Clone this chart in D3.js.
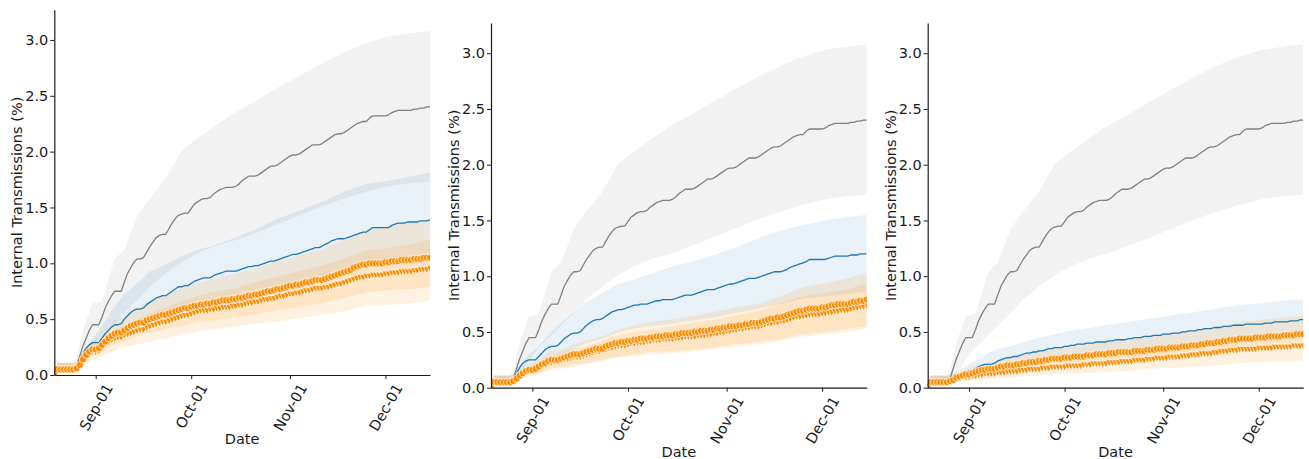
<!DOCTYPE html>
<html>
<head>
<meta charset="utf-8">
<script src="https://cdn.jsdelivr.net/npm/d3@7"></script>
<style>
body { margin: 0; background: #fff; }
svg { display: block; font-family: "DejaVu Sans", sans-serif; }
</style>
</head>
<body>
<svg id="chart" width="1309" height="459"></svg>
<script>
// date range and ticks
var startDay = "2020-08-19",
    endDay = "2020-12-15";
var xTickDays = ["2020-09-01", "2020-10-01", "2020-11-01", "2020-12-01"];
var yTicks = [0, 0.5, 1, 1.5, 2, 2.5, 3];
var yMax = 3.27;

// daily means, one value per day from startDay
var grayMean = [
  .02,.05,.05,.05,.05,.05,.05,.08,.17,.26,
  .33,.40,.45,.45,.45,.52,.60,.66,.71,.75,
  .75,.75,.83,.91,.96,1.01,1.04,1.04,1.05,1.10,
  1.15,1.19,1.23,1.25,1.26,1.26,1.31,1.36,1.40,1.43,
  1.44,1.45,1.45,1.49,1.53,1.55,1.57,1.58,1.58,1.59,
  1.62,1.64,1.66,1.67,1.68,1.68,1.68,1.69,1.71,1.74,
  1.76,1.78,1.78,1.78,1.79,1.81,1.83,1.85,1.87,1.87,
  1.88,1.90,1.92,1.94,1.96,1.97,1.97,1.98,2.00,2.02,
  2.04,2.06,2.06,2.06,2.07,2.09,2.11,2.13,2.15,2.16,
  2.16,2.17,2.19,2.21,2.23,2.25,2.26,2.27,2.27,2.30,
  2.32,2.32,2.32,2.32,2.32,2.33,2.35,2.36,2.37,2.37,
  2.37,2.37,2.37,2.38,2.38,2.39,2.39,2.40,2.40];

var p1Blue = [
  .02,.05,.05,.05,.05,.05,.05,.08,.13,.19,
  .24,.27,.29,.29,.29,.33,.37,.40,.43,.45,
  .45,.46,.50,.53,.56,.58,.59,.59,.60,.63,
  .65,.67,.69,.70,.71,.71,.73,.75,.77,.79,
  .79,.80,.80,.82,.84,.85,.86,.87,.87,.87,
  .89,.90,.91,.92,.93,.93,.93,.93,.94,.95,
  .96,.97,.97,.98,.98,.99,1.00,1.01,1.02,1.02,
  1.03,1.04,1.05,1.06,1.07,1.08,1.08,1.09,1.10,1.11,
  1.12,1.13,1.14,1.14,1.15,1.17,1.18,1.20,1.21,1.22,
  1.22,1.22,1.23,1.24,1.25,1.26,1.27,1.28,1.28,1.30,
  1.32,1.32,1.32,1.32,1.32,1.32,1.34,1.35,1.36,1.36,
  1.36,1.37,1.37,1.37,1.37,1.38,1.38,1.38,1.39];

var p1Circ = [
  .02,.05,.05,.05,.05,.05,.05,.06,.09,.14,
  .18,.21,.23,.23,.24,.27,.30,.33,.35,.37,
  .38,.38,.40,.42,.44,.45,.46,.47,.47,.49,
  .50,.51,.52,.53,.54,.54,.55,.56,.57,.58,
  .59,.60,.60,.61,.62,.62,.63,.63,.64,.64,
  .65,.65,.66,.67,.67,.67,.68,.68,.69,.69,
  .70,.71,.71,.72,.72,.73,.74,.75,.75,.76,
  .77,.77,.78,.79,.80,.80,.81,.81,.82,.83,
  .83,.84,.85,.85,.85,.86,.87,.88,.89,.90,
  .91,.92,.93,.94,.96,.97,.98,.99,.99,1.00,
  1.00,1.00,1.00,1.00,1.01,1.01,1.02,1.02,1.02,1.03,
  1.03,1.03,1.03,1.04,1.04,1.04,1.05,1.05,1.05];

var p1Tri = [
  .02,.05,.05,.05,.05,.05,.05,.06,.08,.12,
  .15,.18,.20,.20,.21,.24,.27,.29,.31,.32,
  .33,.33,.35,.36,.37,.38,.39,.40,.40,.42,
  .43,.44,.45,.46,.47,.47,.48,.49,.50,.51,
  .52,.53,.53,.54,.55,.56,.57,.57,.57,.58,
  .58,.59,.59,.60,.60,.60,.61,.61,.62,.62,
  .63,.64,.64,.65,.65,.66,.67,.67,.68,.68,
  .69,.70,.70,.71,.72,.72,.73,.73,.74,.75,
  .75,.76,.77,.77,.77,.78,.78,.79,.80,.81,
  .81,.82,.83,.84,.85,.86,.87,.87,.88,.88,
  .89,.89,.89,.89,.90,.90,.91,.91,.91,.92,
  .92,.92,.92,.93,.93,.94,.94,.94,.95];

var p2Blue = [
  .02,.05,.05,.05,.05,.05,.05,.07,.13,.18,
  .22,.24,.25,.25,.25,.28,.31,.34,.36,.37,
  .37,.38,.41,.44,.46,.48,.49,.49,.50,.53,
  .56,.58,.60,.61,.61,.62,.64,.66,.68,.69,
  .70,.70,.71,.72,.73,.74,.74,.75,.75,.75,
  .76,.77,.78,.78,.79,.79,.79,.79,.80,.81,
  .82,.83,.83,.83,.84,.85,.86,.87,.88,.88,
  .88,.89,.90,.91,.92,.93,.93,.94,.95,.96,
  .97,.98,.98,.98,.99,1.00,1.01,1.02,1.03,1.04,
  1.04,1.04,1.05,1.06,1.08,1.09,1.10,1.11,1.12,1.13,
  1.15,1.15,1.15,1.15,1.15,1.15,1.16,1.17,1.18,1.18,
  1.18,1.18,1.18,1.19,1.19,1.19,1.20,1.20,1.20];

var p2Circ = [
  .02,.05,.05,.05,.05,.05,.05,.06,.08,.11,
  .13,.15,.16,.16,.17,.19,.21,.22,.24,.25,
  .25,.25,.26,.27,.28,.29,.30,.30,.30,.31,
  .32,.33,.34,.35,.35,.35,.37,.38,.39,.40,
  .40,.41,.41,.42,.42,.43,.43,.44,.44,.44,
  .45,.45,.46,.46,.46,.47,.47,.47,.48,.48,
  .49,.49,.49,.49,.50,.50,.51,.51,.51,.52,
  .52,.53,.53,.54,.54,.55,.55,.55,.56,.56,
  .57,.57,.58,.58,.58,.59,.60,.61,.62,.62,
  .63,.63,.64,.65,.66,.67,.68,.69,.69,.70,
  .71,.71,.71,.71,.72,.72,.73,.74,.74,.75,
  .75,.75,.75,.76,.77,.77,.78,.78,.79];

var p2Tri = [
  .02,.05,.05,.05,.05,.05,.05,.06,.07,.10,
  .12,.14,.15,.15,.16,.18,.19,.20,.22,.22,
  .23,.23,.24,.25,.25,.26,.27,.27,.27,.28,
  .29,.30,.31,.32,.32,.33,.34,.35,.35,.36,
  .37,.37,.37,.38,.39,.39,.40,.40,.40,.41,
  .41,.42,.42,.42,.43,.43,.43,.43,.44,.44,
  .44,.45,.45,.45,.45,.46,.46,.46,.47,.47,
  .48,.48,.49,.49,.50,.50,.51,.51,.52,.52,
  .53,.53,.54,.54,.54,.55,.56,.57,.57,.58,
  .58,.59,.59,.60,.61,.62,.63,.63,.64,.64,
  .65,.65,.65,.65,.66,.66,.67,.67,.68,.68,
  .69,.69,.69,.70,.71,.71,.72,.72,.73];

var p3Blue = [
  .02,.05,.05,.05,.05,.05,.05,.06,.08,.10,
  .12,.13,.14,.15,.15,.17,.19,.20,.21,.21,
  .21,.22,.24,.25,.26,.27,.27,.28,.28,.29,
  .30,.31,.31,.32,.32,.33,.33,.34,.35,.35,
  .36,.36,.36,.37,.37,.38,.38,.39,.39,.39,
  .40,.40,.40,.41,.41,.41,.41,.42,.42,.43,
  .43,.43,.43,.44,.44,.45,.45,.45,.46,.46,
  .46,.47,.47,.47,.48,.48,.48,.49,.49,.49,
  .50,.50,.51,.51,.51,.52,.52,.53,.53,.53,
  .54,.54,.54,.55,.55,.55,.56,.56,.56,.56,
  .57,.57,.57,.57,.57,.57,.58,.58,.58,.59,
  .59,.59,.59,.59,.60,.60,.60,.61,.61];

var p3Circ = [
  .02,.05,.05,.05,.05,.05,.05,.06,.07,.09,
  .10,.11,.12,.12,.13,.14,.15,.16,.16,.17,
  .17,.17,.18,.19,.19,.20,.20,.20,.21,.21,
  .22,.22,.23,.23,.23,.24,.24,.25,.25,.26,
  .26,.26,.26,.27,.27,.27,.28,.28,.28,.28,
  .29,.29,.29,.30,.30,.30,.30,.31,.31,.31,
  .32,.32,.32,.32,.32,.33,.33,.33,.33,.34,
  .34,.34,.35,.35,.35,.35,.36,.36,.36,.36,
  .37,.37,.37,.38,.38,.38,.39,.39,.40,.40,
  .40,.41,.41,.42,.42,.43,.43,.43,.44,.44,
  .44,.44,.44,.45,.45,.45,.45,.46,.46,.46,
  .46,.46,.47,.47,.47,.47,.48,.48,.48];

var p3Tri = [
  .02,.05,.05,.05,.05,.05,.05,.05,.06,.07,
  .08,.09,.09,.09,.10,.10,.11,.11,.12,.12,
  .12,.12,.13,.13,.13,.14,.14,.14,.14,.15,
  .15,.15,.16,.16,.16,.16,.17,.17,.17,.18,
  .18,.18,.18,.18,.19,.19,.19,.19,.19,.20,
  .20,.20,.21,.21,.21,.21,.21,.22,.22,.22,
  .22,.23,.23,.23,.23,.24,.24,.24,.24,.25,
  .25,.25,.26,.26,.26,.26,.27,.27,.27,.27,
  .28,.28,.28,.29,.29,.29,.30,.30,.30,.30,
  .31,.31,.32,.32,.32,.33,.33,.33,.34,.34,
  .34,.34,.34,.34,.35,.35,.35,.35,.35,.36,
  .36,.36,.36,.36,.36,.37,.37,.37,.37];

// uncertainty bands, sampled on these day offsets
var bandDays = [0,1,6,7,9, 12,15,19,22,26, 30,35,40,45,50, 56,63,70,77,84, 91,98,105,112,118];

var grayHi = [.03,.11,.11,.15,.40, .64,.66,1.04,1.12,1.42, 1.58,1.76,2.01,2.12,2.22, 2.34,2.45,2.57,2.68,2.79, 2.89,2.97,3.03,3.06,3.08];
var grayLo = [.01,.02,.02,.04,.12, .25,.36,.47,.56,.67, .79,.91,1.01,1.09,1.15, 1.20,1.27,1.35,1.43,1.51, 1.58,1.64,1.69,1.72,1.73];

var p1BlueHi = [.03,.11,.11,.12,.22, .32,.44,.62,.72,.82, .93,.99,1.06,1.12,1.16, 1.22,1.30,1.40,1.47,1.55, 1.64,1.71,1.74,1.78,1.81];
var p1BlueLo = [.01,.02,.02,.05,.13, .21,.25,.34,.38,.45, .50,.55,.61,.66,.69, .72,.76,.80,.85,.89, .95,1.00,1.03,1.07,1.09];
var p1CircHi = [.03,.11,.11,.11,.19, .30,.36,.49,.53,.61, .66,.71,.78,.82,.86, .90,.95,1.02,1.07,1.12, 1.21,1.30,1.33,1.36,1.38];
var p1CircLo = [.01,.03,.03,.04,.10, .17,.20,.28,.30,.35, .38,.41,.44,.47,.49, .51,.54,.58,.61,.64, .69,.74,.76,.77,.79];
var p1TriHi = [.03,.10,.10,.10,.16, .26,.31,.41,.44,.50, .55,.60,.66,.71,.74, .77,.83,.88,.93,.98, 1.04,1.12,1.14,1.17,1.21];
var p1TriLo = [.01,.02,.02,.03,.08, .14,.17,.22,.25,.27, .30,.33,.36,.39,.41, .43,.46,.48,.51,.54, .57,.62,.63,.64,.67];

var p2BlueHi = [.03,.11,.11,.12,.20, .30,.37,.50,.58,.68, .77,.85,.93,.97,1.02, 1.08,1.13,1.19,1.26,1.34, 1.41,1.46,1.50,1.53,1.55];
var p2BlueLo = [.01,.02,.02,.04,.12, .17,.19,.26,.29,.35, .40,.44,.50,.53,.55, .57,.60,.63,.67,.71, .75,.80,.82,.84,.86];
var p2CircHi = [.03,.11,.11,.11,.16, .21,.25,.33,.34,.39, .42,.46,.52,.56,.59, .61,.64,.68,.72,.75, .82,.90,.94,.98,1.03];
var p2CircLo = [.01,.03,.03,.04,.08, .11,.13,.18,.18,.21, .22,.25,.28,.30,.32, .33,.34,.36,.39,.41, .44,.48,.50,.53,.55];
var p2TriHi = [.03,.10,.10,.10,.14, .19,.23,.28,.31,.35, .37,.42,.47,.50,.52, .55,.58,.61,.65,.69, .76,.82,.85,.88,.94];
var p2TriLo = [.01,.02,.02,.03,.07, .11,.13,.16,.17,.19, .21,.24,.27,.28,.30, .31,.32,.35,.37,.39, .42,.46,.48,.50,.53];

var p3BlueHi = [.03,.11,.11,.11,.14, .19,.24,.31,.35,.37, .41,.45,.48,.51,.53, .56,.59,.62,.65,.68, .71,.74,.76,.78,.79];
var p3BlueLo = [.01,.02,.02,.04,.07, .10,.12,.15,.17,.20, .22,.24,.26,.28,.29, .30,.32,.34,.36,.38, .40,.41,.42,.43,.45];
var p3CircHi = [.03,.11,.11,.11,.13, .16,.19,.23,.24,.27, .30,.32,.35,.37,.39, .41,.43,.46,.49,.51, .55,.59,.61,.63,.65];
var p3CircLo = [.01,.03,.03,.04,.06, .09,.10,.12,.13,.14, .16,.17,.19,.19,.21, .22,.23,.24,.26,.27, .30,.32,.32,.34,.35];
var p3TriHi = [.03,.10,.10,.10,.10, .12,.14,.16,.18,.19, .20,.22,.24,.26,.27, .28,.31,.34,.36,.39, .42,.46,.47,.49,.50];
var p3TriLo = [.01,.02,.02,.03,.05, .06,.07,.08,.09,.09, .10,.11,.12,.13,.13, .14,.15,.17,.18,.19, .20,.22,.23,.24,.24];

var GRAY = "#808080", BLUE = "#1f77b4", ORANGE = "#ff8c00", INK = "#1a1a1a";

var panels = [
  {left: 54.3, right: 430, top: 9.8, bottom: 375,
   blue: p1Blue, blueLo: p1BlueLo, blueHi: p1BlueHi,
   circ: p1Circ, circLo: p1CircLo, circHi: p1CircHi,
   tri: p1Tri, triLo: p1TriLo, triHi: p1TriHi},
  {left: 491, right: 866.7, top: 23.1, bottom: 387.7,
   blue: p2Blue, blueLo: p2BlueLo, blueHi: p2BlueHi,
   circ: p2Circ, circLo: p2CircLo, circHi: p2CircHi,
   tri: p2Tri, triLo: p2TriLo, triHi: p2TriHi},
  {left: 927.7, right: 1303.3, top: 23.1, bottom: 387.7,
   blue: p3Blue, blueLo: p3BlueLo, blueHi: p3BlueHi,
   circ: p3Circ, circLo: p3CircLo, circHi: p3CircHi,
   tri: p3Tri, triLo: p3TriLo, triHi: p3TriHi}
];

var parse = d3.utcParse("%Y-%m-%d");
var t0 = parse(startDay);
function dayDate(i){
    return d3.utcDay.offset(t0, i);
}

var svg = d3.select("#chart");
var FS = 14.5;

function drawPanel(p, k){
    var x = d3.scaleUtc().domain([t0, parse(endDay)]).range([p.left, p.right]),
        y = d3.scaleLinear().domain([0, yMax]).range([p.bottom, p.top]);

    var g = svg.append("g");
    g.append("clipPath").attr("id", "clip" + k)
        .append("rect")
        .attr("x", p.left).attr("y", p.top)
        .attr("width", p.right - p.left).attr("height", p.bottom - p.top);
    var plot = g.append("g").attr("clip-path", "url(#clip" + k + ")");

    function band(lo, hi, color, op){
        var area = d3.area()
            .x(function(d){ return x(dayDate(d)); })
            .y0(function(d, i){ return y(lo[i]); })
            .y1(function(d, i){ return y(hi[i]); });
        plot.append("path").datum(bandDays)
            .attr("d", area)
            .attr("fill", color)
            .attr("fill-opacity", op);
    }

    function line(values, color, width){
        var path = d3.line()
            .x(function(d, i){ return x(dayDate(i)); })
            .y(function(d){ return y(d); });
        plot.append("path").datum(values)
            .attr("d", path)
            .attr("fill", "none")
            .attr("stroke", color)
            .attr("stroke-width", width)
            .attr("stroke-linejoin", "round");
    }

    band(grayLo, grayHi, GRAY, 0.1);
    band(p.blueLo, p.blueHi, BLUE, 0.1);
    band(p.circLo, p.circHi, ORANGE, 0.12);
    band(p.triLo, p.triHi, ORANGE, 0.12);

    line(grayMean, GRAY, 1.3);
    line(p.blue, BLUE, 1.3);

    var s = 3.4;
    plot.append("g").selectAll("path")
        .data(p.tri)
        .join("path")
        .attr("transform", function(d, i){ return "translate(" + x(dayDate(i)) + "," + y(d) + ")"; })
        .attr("d", "M" + (-s) + "," + (-s) + "L" + s + "," + (-s) + "L0," + s + "Z")
        .attr("fill", ORANGE)
        .attr("stroke", "#fff")
        .attr("stroke-width", 0.7);

    plot.append("g").selectAll("circle")
        .data(p.circ)
        .join("circle")
        .attr("cx", function(d, i){ return x(dayDate(i)); })
        .attr("cy", function(d){ return y(d); })
        .attr("r", 3.6)
        .attr("fill", ORANGE)
        .attr("stroke", "#fff")
        .attr("stroke-width", 0.7);

    // axes
    var yAxis = d3.axisLeft(y)
        .tickValues(yTicks)
        .tickFormat(d3.format(".1f"))
        .tickSize(4)
        .tickPadding(2)
        .tickSizeOuter(0);
    var yg = g.append("g").attr("transform", "translate(" + p.left + ",0)").call(yAxis);

    var xAxis = d3.axisBottom(x)
        .tickValues(xTickDays.map(parse))
        .tickFormat(d3.utcFormat("%b-%d"))
        .tickSize(4)
        .tickSizeOuter(0);
    var xg = g.append("g").attr("transform", "translate(0," + p.bottom + ")").call(xAxis);

    [yg, xg].forEach(function(a){
        a.select(".domain").attr("stroke", INK).attr("stroke-width", 1.2);
        a.selectAll(".tick line").attr("stroke", INK).attr("stroke-width", 1);
        a.selectAll(".tick text")
            .attr("fill", INK)
            .attr("font-size", FS)
            .attr("font-family", "DejaVu Sans, sans-serif");
    });

    var ang = Math.PI / 3;
    xg.selectAll(".tick text").each(function(){
        var w = this.getComputedTextLength(),
            h = 12,
            H = w * Math.sin(ang) + h * Math.cos(ang);
        d3.select(this)
            .attr("y", 0).attr("dy", null)
            .attr("text-anchor", "middle")
            .attr("dominant-baseline", "central")
            .attr("transform", "translate(0," + (7 + H / 2) + ") rotate(-60)");
    });

    g.append("text")
        .attr("x", (p.left + p.right) / 2)
        .attr("y", p.bottom + 64)
        .attr("text-anchor", "middle")
        .attr("dominant-baseline", "central")
        .attr("font-size", FS)
        .attr("fill", INK)
        .text("Date");

    g.append("text")
        .attr("transform", "translate(" + (p.left - 37) + "," + ((p.top + p.bottom) / 2) + ") rotate(-90)")
        .attr("text-anchor", "middle")
        .attr("dominant-baseline", "central")
        .attr("font-size", FS)
        .attr("fill", INK)
        .text("Internal Transmissions (%)");
}

panels.forEach(drawPanel);
</script>
</body>
</html>
